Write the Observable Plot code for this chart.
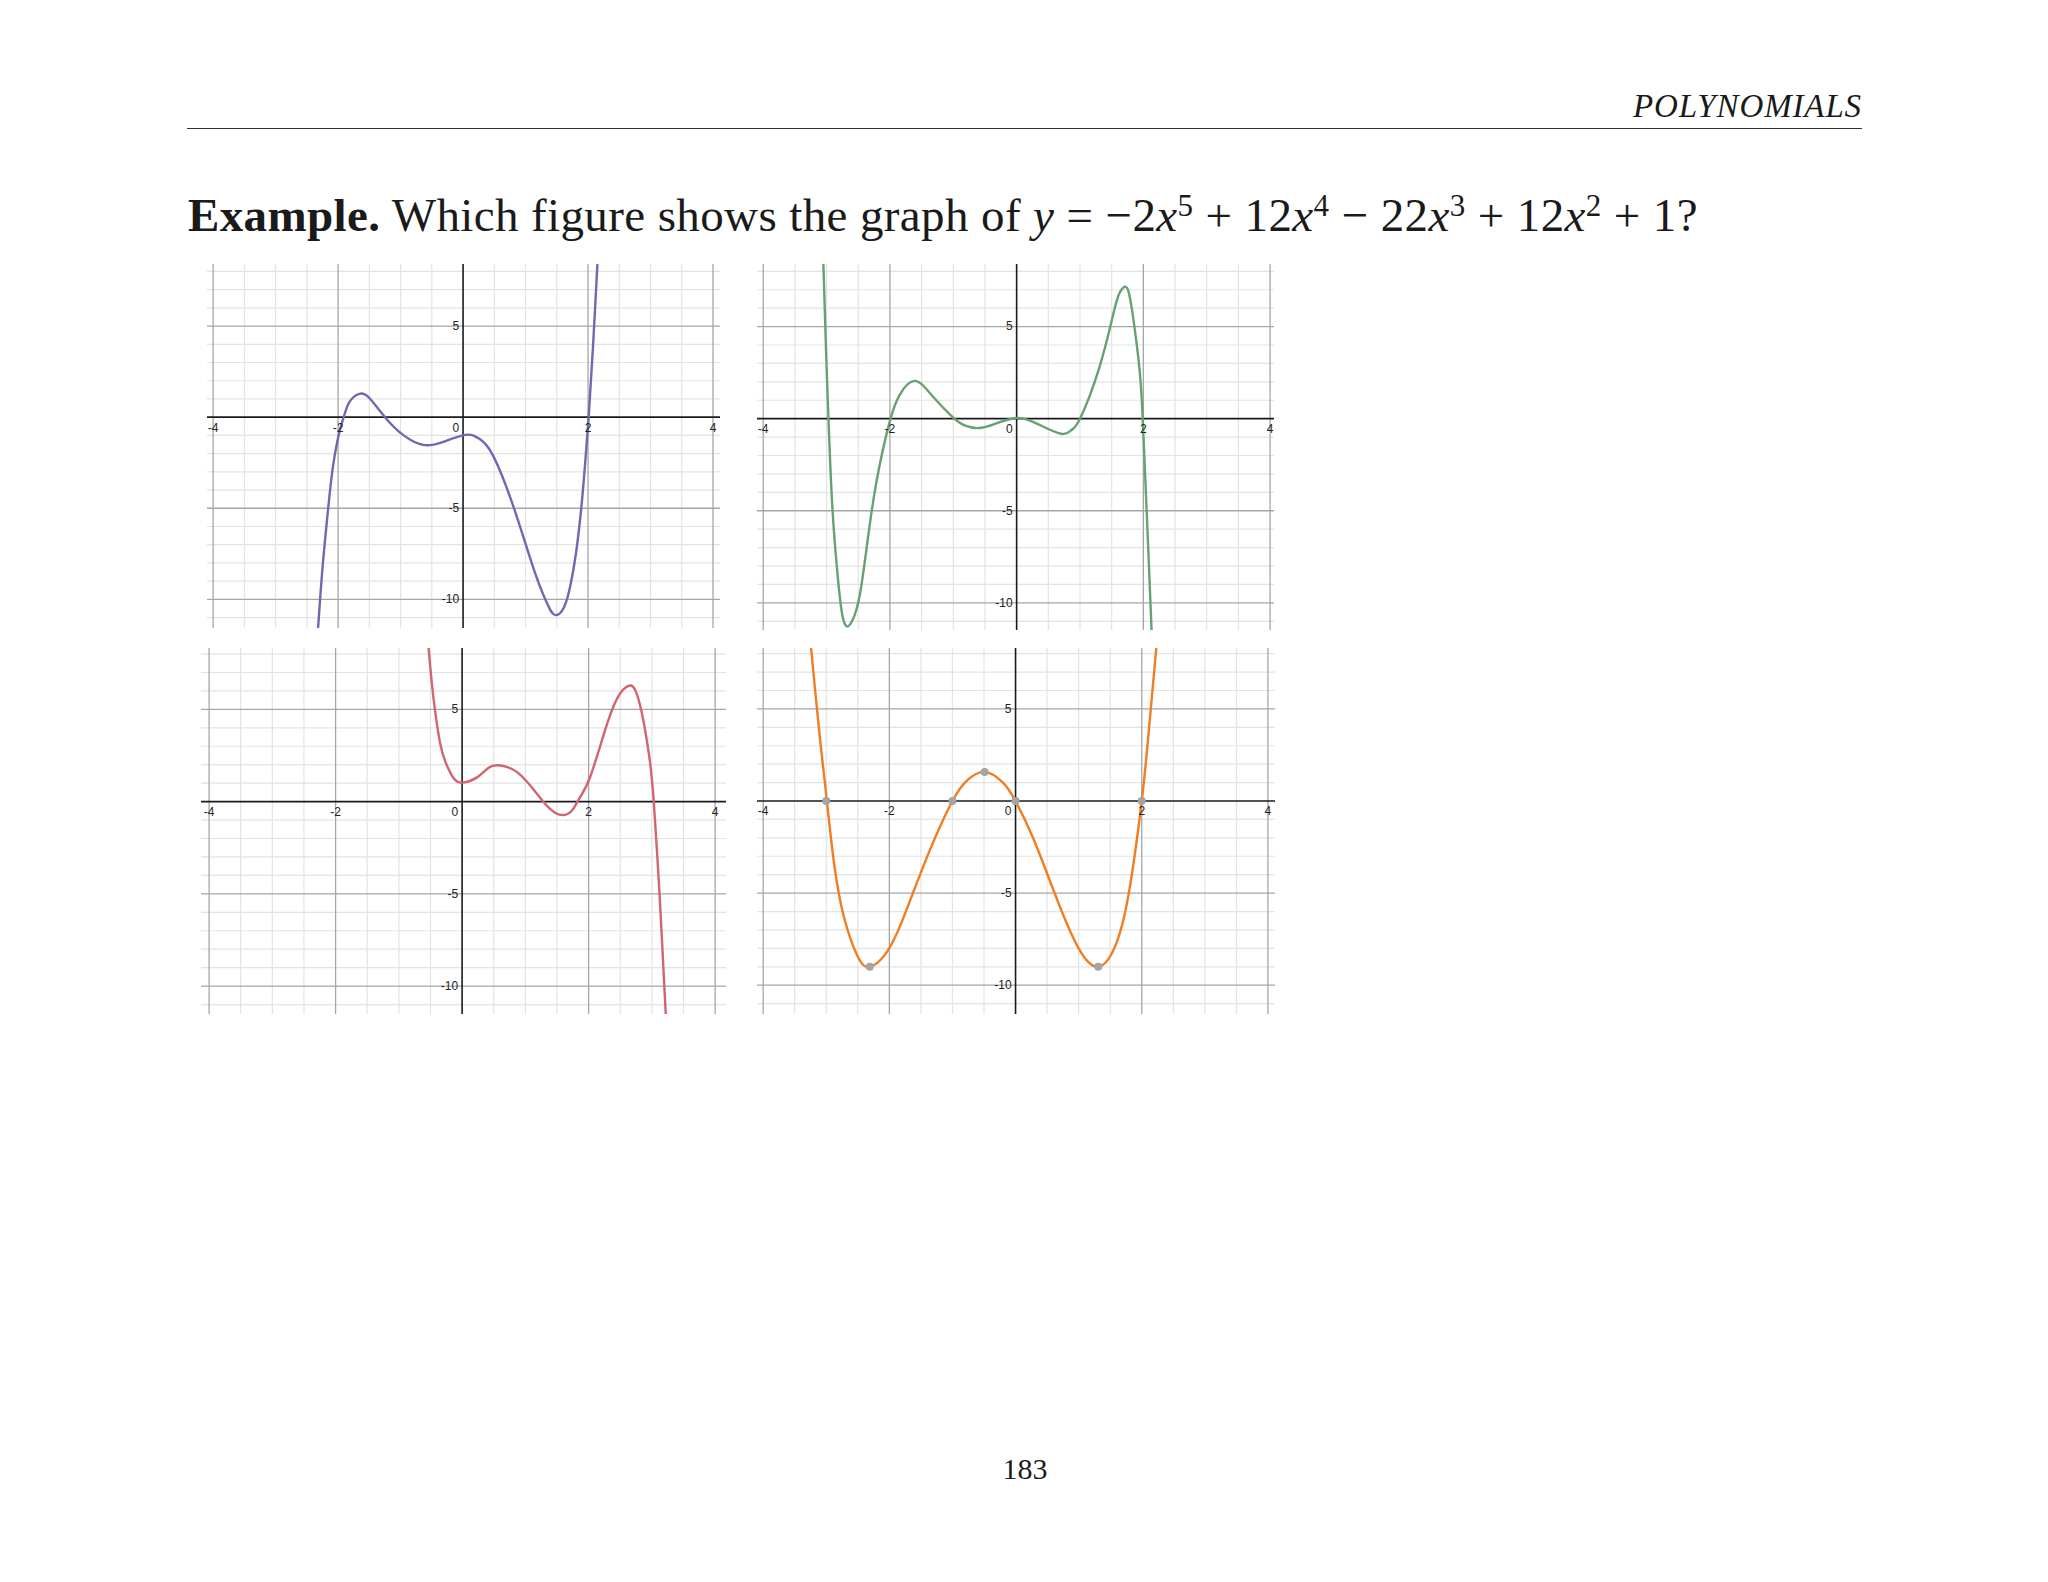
<!DOCTYPE html>
<html>
<head>
<meta charset="utf-8">
<script src="https://cdn.jsdelivr.net/npm/d3@7"></script>
<script src="https://cdn.jsdelivr.net/npm/@observablehq/plot@0.6"></script>
<style>
html, body { margin: 0; padding: 0; background: #fff; }
#page { position: relative; width: 2048px; height: 1582px; overflow: hidden; background: #fff; }
.abs { position: absolute; white-space: nowrap; line-height: 1; color: #1a1a1a; }
#header { font-family: "Liberation Serif", "DejaVu Serif", serif; font-style: italic; font-size: 33px; right: 186px; top: 90px; }
#rule { position: absolute; left: 187px; top: 128px; width: 1675px; height: 0; border-top: 1.2px solid #333; }
#title { font-family: "Liberation Serif", "DejaVu Serif", serif; font-size: 47px; left: 188px; top: 192px; }
#title sup { font-size: 0.66em; vertical-align: 0; position: relative; top: -0.5em; line-height: 0; }
#pagenum { font-family: "Liberation Serif", "DejaVu Serif", serif; font-size: 30px; top: 1454px; left: 1025px; transform: translateX(-50%); }
.panel { position: absolute; }
</style>
</head>
<body>
<div id="page">
  <div id="header" class="abs">POLYNOMIALS</div>
  <div id="rule"></div>
  <div id="title" class="abs"><b>Example.</b> Which figure shows the graph of <i>y</i> = −2<i>x</i><sup>5</sup> + 12<i>x</i><sup>4</sup> − 22<i>x</i><sup>3</sup> + 12<i>x</i><sup>2</sup> + 1?</div>
  <div id="p1" class="panel"></div>
  <div id="p2" class="panel"></div>
  <div id="p3" class="panel"></div>
  <div id="p4" class="panel"></div>
  <div id="pagenum" class="abs">183</div>
</div>
<script>
// ---------- grid / tick values ----------
const minorXTicks = [-3.5, -3, -2.5, -1.5, -1, -0.5, 0.5, 1, 1.5, 2.5, 3, 3.5];
const majorXTicks = [-4, -2, 2, 4];
const minorYTicks = [8, 7, 6, 4, 3, 2, 1, -1, -2, -3, -4, -6, -7, -8, -9, -11];
const majorYTicks = [5, -5, -10];
const xTickLabels = [-4, -2, 2, 4];
const yTickLabels = [5, -5, -10];
const originLabel = ["0"];

// ---------- curve readings (x, y) ----------
const purpleX = [-2.37, -2.32, -2.25, -2.16, -2.08, -1.98, -1.91, -1.82, -1.66, -1.50, -1.25, -0.95, -0.64, -0.34, 0.04, 0.26, 0.48, 0.82, 1.15, 1.37, 1.43, 1.50, 1.62, 1.72, 1.81, 1.89, 1.95, 2.01, 2.08, 2.15, 2.20];
const purpleY = [-14.0, -11.56, -8.3, -5.05, -2.66, -0.83, 0.0, 0.83, 1.28, 1.05, 0.0, -1.0, -1.52, -1.38, -0.97, -1.19, -2.11, -5.05, -8.53, -10.4, -10.75, -10.86, -10.4, -9.2, -7.4, -5.05, -2.7, 0.0, 3.9, 8.39, 11.5];

const greenX = [-3.09, -3.05, -3.01, -2.97, -2.91, -2.83, -2.75, -2.66, -2.56, -2.45, -2.29, -2.13, -1.99, -1.85, -1.61, -1.34, -1.01, -0.82, -0.60, -0.33, 0.0, 0.32, 0.70, 0.86, 1.0, 1.30, 1.52, 1.62, 1.71, 1.77, 1.83, 1.90, 1.95, 1.99, 2.06, 2.13, 2.16];
const greenY = [12.5, 8.37, 3.9, 0.0, -4.71, -8.33, -10.69, -11.27, -10.69, -9.06, -5.07, -1.99, 0.0, 1.27, 2.05, 1.27, 0.09, -0.36, -0.51, -0.27, 0.04, -0.27, -0.82, -0.63, 0.0, 2.72, 5.6, 6.79, 7.16, 6.85, 5.7, 3.9, 2.3, 0.0, -5.62, -11.5, -14.3];

const redX = [-0.57, -0.53, -0.48, -0.43, -0.35, -0.26, -0.13, 0.01, 0.23, 0.42, 0.58, 0.88, 1.21, 1.40, 1.56, 1.73, 1.86, 2.03, 2.30, 2.49, 2.63, 2.73, 2.84, 2.95, 3.03, 3.12, 3.17, 3.22, 3.25];
const redY = [9.9, 8.3, 6.46, 5.0, 3.2, 2.12, 1.25, 1.03, 1.30, 1.84, 1.97, 1.57, 0.31, -0.42, -0.72, -0.51, 0.22, 1.39, 4.29, 5.82, 6.27, 6.09, 4.83, 2.66, 0.0, -4.94, -8.19, -11.54, -13.6];

const orangeX = [-3.28, -3.24, -3.10, -2.99, -2.88, -2.72, -2.50, -2.31, -2.06, -1.79, -1.41, -1.0, -0.75, -0.49, -0.20, 0.0, 0.29, 0.67, 1.0, 1.31, 1.60, 1.82, 2.0, 2.09, 2.23, 2.27];
const orangeY = [10.0, 8.28, 3.4, 0.0, -3.3, -6.3, -8.45, -9.0, -8.3, -6.45, -3.1, 0.0, 1.17, 1.58, 1.0, 0.0, -2.1, -5.45, -8.0, -9.0, -7.7, -4.5, 0.0, 3.0, 8.28, 10.0];

const keyPointX = [-3.0, -2.31, -1.0, -0.49, 0.0, 1.31, 2.0];
const keyPointY = [0.0, -9.0, 0.0, 1.58, 0.0, -9.0, 0.0];

// ---------- panel builder ----------
function zip(xs, ys) { return xs.map((x, i) => ({x, y: ys[i]})); }

function panel(id, cfg) {
  const el = document.getElementById(id);
  el.style.left = cfg.left + "px";
  el.style.top = cfg.top + "px";
  const labelFont = {fontSize: 12, fill: "#222"};
  const marks = [
    Plot.ruleX(minorXTicks, {x: d => d, stroke: "#e3e3e3", strokeWidth: 1.2}),
    Plot.ruleY(minorYTicks, {y: d => d, stroke: "#e3e3e3", strokeWidth: 1.2}),
    Plot.ruleX(majorXTicks, {x: d => d, stroke: "#a6a6a6", strokeWidth: 1.3}),
    Plot.ruleY(majorYTicks, {y: d => d, stroke: "#a6a6a6", strokeWidth: 1.3}),
    Plot.ruleX([0], {x: d => d, stroke: "#1a1a1a", strokeWidth: 1.6}),
    Plot.ruleY([0], {y: d => d, stroke: "#1a1a1a", strokeWidth: 1.6}),
    Plot.line(zip(cfg.xs, cfg.ys), {x: "x", y: "y", curve: "natural", stroke: cfg.color, strokeWidth: 2.4, clip: true}),
    Plot.text(xTickLabels, {x: d => d, y: () => 0, text: d => String(d), dy: 10.5, ...labelFont}),
    Plot.text(yTickLabels, {x: () => 0, y: d => d, text: d => String(d), dx: -4, textAnchor: "end", ...labelFont}),
    Plot.text(originLabel, {x: () => 0, y: () => 0, text: d => d, dx: -4, dy: 10.5, textAnchor: "end", ...labelFont})
  ];
  if (cfg.dots) {
    marks.push(Plot.dot(zip(keyPointX, keyPointY), {x: "x", y: "y", r: 4, fill: "#a4a4a4", stroke: "none"}));
  }
  const chart = Plot.plot({
    width: cfg.width,
    height: cfg.height,
    margin: 0,
    x: {domain: cfg.xDomain, axis: null},
    y: {domain: cfg.yDomain, axis: null},
    style: {overflow: "visible", background: "transparent", fontFamily: "'Liberation Sans', Arial, sans-serif"},
    marks
  });
  el.appendChild(chart);
}

panel("p1", {left: 207, top: 264, width: 513, height: 364, xDomain: [-4.09, 4.12], yDomain: [-11.6, 8.38], xs: purpleX, ys: purpleY, color: "#6e69b1"});
panel("p2", {left: 757, top: 264, width: 517, height: 366, xDomain: [-4.09, 4.07], yDomain: [-11.5, 8.37], xs: greenX, ys: greenY, color: "#66a271"});
panel("p3", {left: 201, top: 648, width: 525, height: 366, xDomain: [-4.12, 4.18], yDomain: [-11.54, 8.3], xs: redX, ys: redY, color: "#cf6670"});
panel("p4", {left: 757, top: 648, width: 518, height: 366, xDomain: [-4.09, 4.12], yDomain: [-11.59, 8.28], xs: orangeX, ys: orangeY, color: "#f27c20", dots: true});

// ---------- fit text widths to the reference by letter spacing ----------
function fitWidth(id, target) {
  const el = document.getElementById(id);
  const w = el.getBoundingClientRect().width;
  const n = el.textContent.length;
  el.style.letterSpacing = ((target - w) / n) + "px";
}
fitWidth("title", 1510);
fitWidth("header", 229);
</script>
</body>
</html>
